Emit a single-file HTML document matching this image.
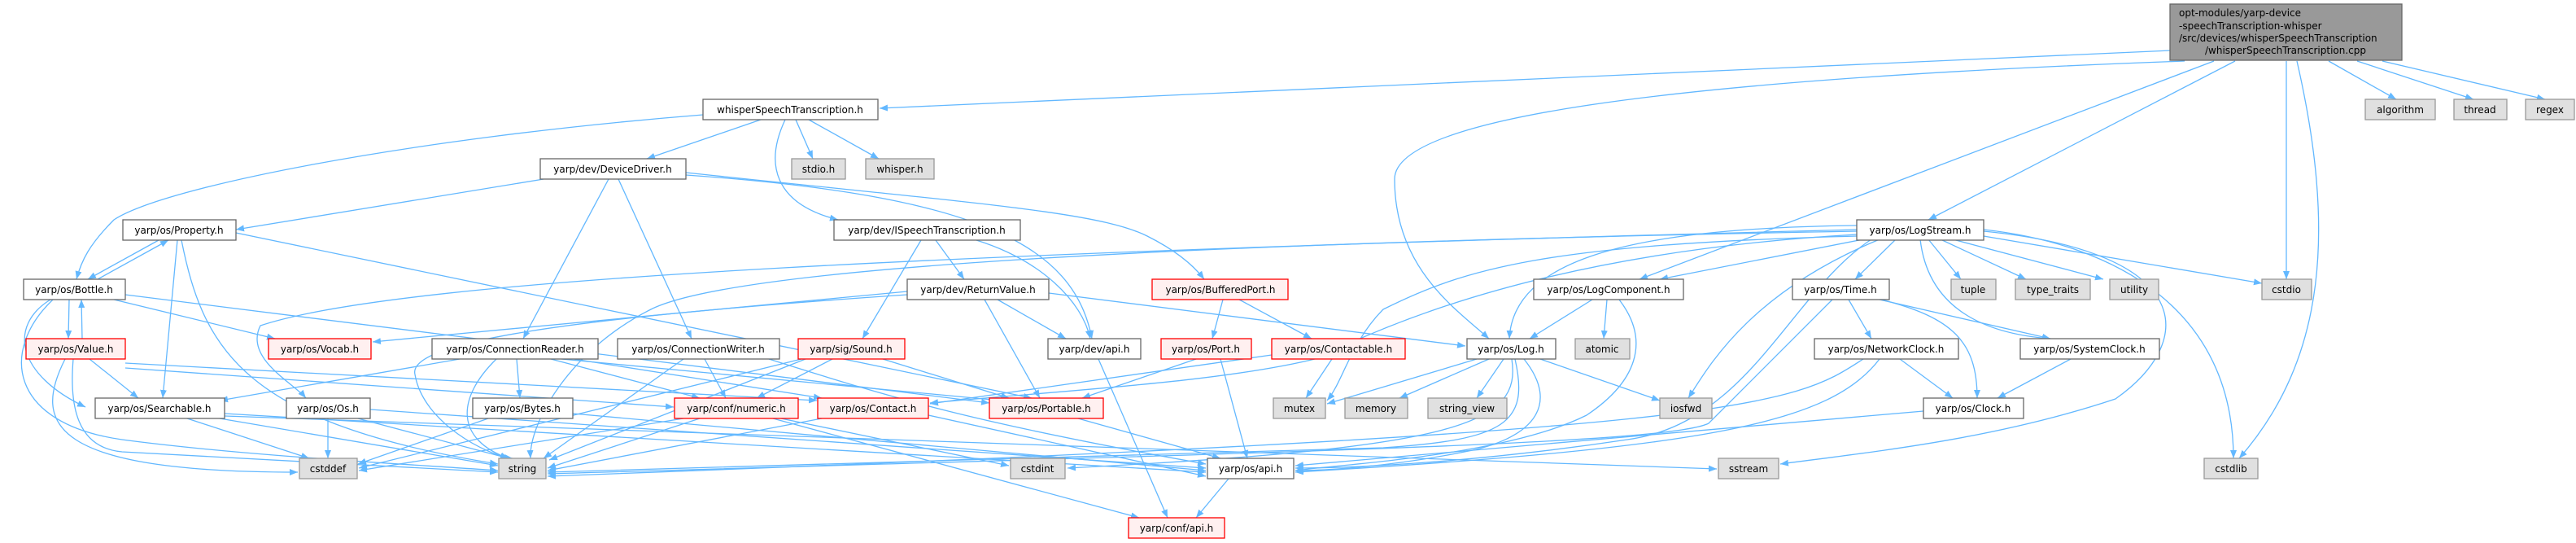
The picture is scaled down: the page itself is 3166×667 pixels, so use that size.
<!DOCTYPE html>
<html><head><meta charset="utf-8"><style>
html,body{margin:0;padding:0;background:#fff;}
svg{display:block;}
text{font-family:"DejaVu Sans","Liberation Sans",sans-serif;font-size:12px;fill:#000;}
.e{fill:none;stroke:#63b8ff;stroke-width:1.3;marker-end:url(#a);}
.w{fill:#fff;stroke:#666;stroke-width:1.3;}
.g{fill:#e0e0e0;stroke:#999;stroke-width:1.3;}
.r{fill:#fff0f0;stroke:#ff0000;stroke-width:1.3;}
.t{fill:#999;stroke:#666;stroke-width:1.3;}
</style></head><body>
<svg width="3166" height="667" viewBox="0 0 3166 667" xmlns="http://www.w3.org/2000/svg">
<defs><marker id="a" viewBox="0 0 10 10" refX="10" refY="5" markerWidth="10" markerHeight="10" markerUnits="userSpaceOnUse" orient="auto"><path d="M0,1 L10,5 L0,9 z" fill="#63b8ff"/></marker></defs>
<g>
<path class="e" d="M2668 62 L1081 133"/>
<path class="e" d="M2862 75 L2945 122"/>
<path class="e" d="M2897 75 L3040 122"/>
<path class="e" d="M2928 75 L3128 122"/>
<path class="e" d="M2810 75 L2810 343"/>
<path class="e" d="M2823 75 C2870 280 2860 440 2752 563"/>
<path class="e" d="M2747 75 L2370 270"/>
<path class="e" d="M2721 75 L2015 343"/>
<path class="e" d="M2685 75 C2000 100 1714 150 1714 220 C1714 330 1790 380 1830 416"/>
<path class="e" d="M935 147 L795 195"/>
<path class="e" d="M978 147 L999 195"/>
<path class="e" d="M994 147 L1080 195"/>
<path class="e" d="M965 147 C940 200 950 250 1030 270"/>
<path class="e" d="M864 141 C500 170 200 230 140 270 C110 300 100 320 94 343"/>
<path class="e" d="M668 220 L290 282"/>
<path class="e" d="M748 220 L643 416"/>
<path class="e" d="M760 220 L850 416"/>
<path class="e" d="M843 215 C1200 240 1320 300 1342 416"/>
<path class="e" d="M843 212 C1200 250 1350 260 1410 290 C1450 310 1470 330 1480 343"/>
<path class="e" d="M195 295 L108 343"/>
<path class="e" d="M120 343 L207 295"/>
<path class="e" d="M218 295 L200 489"/>
<path class="e" d="M223 295 C250 430 300 520 612 570"/>
<path class="e" d="M290 286 L1268 489"/>
<path class="e" d="M85 368 L84 416"/>
<path class="e" d="M101 416 L100 368"/>
<path class="e" d="M140 368 L338 416"/>
<path class="e" d="M62 368 C10 400 20 460 105 500"/>
<path class="e" d="M65 368 C0 430 10 520 150 540 C300 560 500 570 612 578"/>
<path class="e" d="M154 362 L1216 495"/>
<path class="e" d="M110 441 L170 489"/>
<path class="e" d="M80 441 C40 520 60 580 366 580"/>
<path class="e" d="M90 441 C85 500 95 550 150 555 L612 580"/>
<path class="e" d="M154 452 L828 500"/>
<path class="e" d="M154 446 L1004 492"/>
<path class="e" d="M1150 295 L1185 343"/>
<path class="e" d="M1132 295 L1060 416"/>
<path class="e" d="M1200 295 C1280 320 1330 370 1340 416"/>
<path class="e" d="M1115 358 L458 420"/>
<path class="e" d="M1115 362 C700 390 500 420 510 460 C520 520 600 560 630 563"/>
<path class="e" d="M1226 368 L1310 416"/>
<path class="e" d="M1210 368 L1278 489"/>
<path class="e" d="M1289 360 L1801 425"/>
<path class="e" d="M2282 282 C1200 310 500 340 320 400 C300 440 360 470 376 489"/>
<path class="e" d="M1503 368 L1490 416"/>
<path class="e" d="M1523 368 L1612 416"/>
<path class="e" d="M1470 441 L1330 489"/>
<path class="e" d="M1500 441 L1533 563"/>
<path class="e" d="M1637 441 L1605 489"/>
<path class="e" d="M1563 436 L1143 496"/>
<path class="e" d="M565 441 L270 492"/>
<path class="e" d="M610 441 C560 490 560 540 625 563"/>
<path class="e" d="M635 441 L639 489"/>
<path class="e" d="M677 441 L860 489"/>
<path class="e" d="M705 441 L1010 489"/>
<path class="e" d="M690 441 L1230 492"/>
<path class="e" d="M866 441 L892 489"/>
<path class="e" d="M840 441 L668 563"/>
<path class="e" d="M945 441 C1100 490 1200 520 1482 570"/>
<path class="e" d="M1023 441 L930 489"/>
<path class="e" d="M1085 441 L1240 489"/>
<path class="e" d="M990 441 L675 565"/>
<path class="e" d="M985 441 L441 575"/>
<path class="e" d="M1350 441 L1435 636"/>
<path class="e" d="M403 514 L403 563"/>
<path class="e" d="M440 514 L625 563"/>
<path class="e" d="M455 503 L1482 575"/>
<path class="e" d="M600 514 L440 570"/>
<path class="e" d="M704 508 L1482 578"/>
<path class="e" d="M230 514 L380 563"/>
<path class="e" d="M270 514 L612 572"/>
<path class="e" d="M276 508 L1482 580"/>
<path class="e" d="M276 511 L2110 576"/>
<path class="e" d="M960 514 L1240 572"/>
<path class="e" d="M860 514 L673 575"/>
<path class="e" d="M840 514 L441 578"/>
<path class="e" d="M950 514 L1400 636"/>
<path class="e" d="M1010 514 L673 578"/>
<path class="e" d="M1141 510 L1482 585"/>
<path class="e" d="M1325 514 L1500 563"/>
<path class="e" d="M1510 588 L1470 636"/>
<path class="e" d="M2282 277 C2000 280 1860 320 1855 416"/>
<path class="e" d="M2290 294 L2040 343"/>
<path class="e" d="M2330 294 L2280 343"/>
<path class="e" d="M2360 294 C2370 380 2440 410 2520 416"/>
<path class="e" d="M2370 294 L2410 343"/>
<path class="e" d="M2385 294 L2490 343"/>
<path class="e" d="M2400 294 L2585 343"/>
<path class="e" d="M2438 290 L2780 348"/>
<path class="e" d="M2438 282 C2600 300 2745 380 2745 563"/>
<path class="e" d="M2438 284 C2700 310 2700 420 2600 490 C2450 540 2300 555 2188 570"/>
<path class="e" d="M2310 294 C2150 360 2100 450 2075 489"/>
<path class="e" d="M2300 294 C2200 360 2150 520 2000 540 C1800 570 1650 575 1592 575"/>
<path class="e" d="M2282 284 C1400 300 900 330 800 380 C700 430 650 520 652 563"/>
<path class="e" d="M2282 290 C1900 300 1800 330 1700 380 C1660 420 1650 470 1631 492"/>
<path class="e" d="M2282 288 C1900 310 1700 400 1620 440 C1500 470 1300 480 1143 495"/>
<path class="e" d="M1957 368 L1880 416"/>
<path class="e" d="M1975 368 L1971 416"/>
<path class="e" d="M1990 368 C2030 420 2010 470 1950 510 C1850 560 1650 570 1592 578"/>
<path class="e" d="M1815 441 L1631 496"/>
<path class="e" d="M1830 441 L1720 489"/>
<path class="e" d="M1848 441 L1815 489"/>
<path class="e" d="M1893 441 L2040 492"/>
<path class="e" d="M1873 441 C1920 500 1880 540 1800 555 C1700 575 1620 578 1592 578"/>
<path class="e" d="M1862 441 C1880 520 1850 540 1700 550 L673 580"/>
<path class="e" d="M1858 441 C1870 520 1800 550 1312 575"/>
<path class="e" d="M2272 368 L2300 416"/>
<path class="e" d="M2310 368 L2520 416"/>
<path class="e" d="M2312 368 C2400 390 2430 420 2430 489"/>
<path class="e" d="M2252 368 L2100 520 C2050 545 1600 555 673 582"/>
<path class="e" d="M2335 441 L2400 489"/>
<path class="e" d="M2310 441 C2250 520 2100 550 1592 580"/>
<path class="e" d="M2290 441 C2200 500 2150 530 673 585"/>
<path class="e" d="M2545 441 L2455 489"/>
<path class="e" d="M2364 505 L1592 572"/>
</g>
<g>
<rect class="t" x="2667" y="5" width="285" height="69"/>
<text x="2678" y="20">opt-modules/yarp-device</text>
<text x="2678" y="36">-speechTranscription-whisper</text>
<text x="2678" y="51">/src/devices/whisperSpeechTranscription</text>
<text x="2809" y="66" text-anchor="middle">/whisperSpeechTranscription.cpp</text>
</g>
<g text-anchor="middle">
<rect class="w" x="864" y="122" width="215" height="25"/><text x="971" y="139">whisperSpeechTranscription.h</text>
<rect class="g" x="2907" y="122" width="86" height="25"/><text x="2950" y="139">algorithm</text>
<rect class="g" x="3016" y="122" width="65" height="25"/><text x="3048" y="139">thread</text>
<rect class="g" x="3104" y="122" width="60" height="25"/><text x="3134" y="139">regex</text>
<rect class="w" x="664" y="195" width="179" height="25"/><text x="753" y="212">yarp/dev/DeviceDriver.h</text>
<rect class="g" x="973" y="195" width="66" height="25"/><text x="1006" y="212">stdio.h</text>
<rect class="g" x="1064" y="195" width="84" height="25"/><text x="1106" y="212">whisper.h</text>
<rect class="w" x="151" y="270" width="139" height="25"/><text x="220" y="287">yarp/os/Property.h</text>
<rect class="w" x="1025" y="270" width="229" height="25"/><text x="1139" y="287">yarp/dev/ISpeechTranscription.h</text>
<rect class="w" x="2282" y="270" width="156" height="25"/><text x="2360" y="287">yarp/os/LogStream.h</text>
<rect class="w" x="29" y="343" width="125" height="25"/><text x="91" y="360">yarp/os/Bottle.h</text>
<rect class="w" x="1115" y="343" width="174" height="25"/><text x="1202" y="360">yarp/dev/ReturnValue.h</text>
<rect class="r" x="1416" y="343" width="167" height="25"/><text x="1500" y="360">yarp/os/BufferedPort.h</text>
<rect class="w" x="1885" y="343" width="184" height="25"/><text x="1977" y="360">yarp/os/LogComponent.h</text>
<rect class="w" x="2203" y="343" width="119" height="25"/><text x="2262" y="360">yarp/os/Time.h</text>
<rect class="g" x="2398" y="343" width="55" height="25"/><text x="2425" y="360">tuple</text>
<rect class="g" x="2477" y="343" width="92" height="25"/><text x="2523" y="360">type_traits</text>
<rect class="g" x="2593" y="343" width="60" height="25"/><text x="2623" y="360">utility</text>
<rect class="g" x="2780" y="343" width="61" height="25"/><text x="2810" y="360">cstdio</text>
<rect class="r" x="32" y="416" width="122" height="25"/><text x="93" y="433">yarp/os/Value.h</text>
<rect class="r" x="330" y="416" width="126" height="25"/><text x="393" y="433">yarp/os/Vocab.h</text>
<rect class="w" x="531" y="416" width="204" height="25"/><text x="633" y="433">yarp/os/ConnectionReader.h</text>
<rect class="w" x="759" y="416" width="199" height="25"/><text x="858" y="433">yarp/os/ConnectionWriter.h</text>
<rect class="r" x="981" y="416" width="131" height="25"/><text x="1046" y="433">yarp/sig/Sound.h</text>
<rect class="w" x="1288" y="416" width="114" height="25"/><text x="1345" y="433">yarp/dev/api.h</text>
<rect class="r" x="1427" y="416" width="111" height="25"/><text x="1482" y="433">yarp/os/Port.h</text>
<rect class="r" x="1563" y="416" width="164" height="25"/><text x="1645" y="433">yarp/os/Contactable.h</text>
<rect class="w" x="1803" y="416" width="109" height="25"/><text x="1857" y="433">yarp/os/Log.h</text>
<rect class="g" x="1936" y="416" width="67" height="25"/><text x="1969" y="433">atomic</text>
<rect class="w" x="2230" y="416" width="177" height="25"/><text x="2318" y="433">yarp/os/NetworkClock.h</text>
<rect class="w" x="2483" y="416" width="171" height="25"/><text x="2568" y="433">yarp/os/SystemClock.h</text>
<rect class="w" x="117" y="489" width="159" height="25"/><text x="196" y="506">yarp/os/Searchable.h</text>
<rect class="w" x="352" y="489" width="103" height="25"/><text x="403" y="506">yarp/os/Os.h</text>
<rect class="w" x="581" y="489" width="123" height="25"/><text x="642" y="506">yarp/os/Bytes.h</text>
<rect class="r" x="829" y="489" width="152" height="25"/><text x="905" y="506">yarp/conf/numeric.h</text>
<rect class="r" x="1005" y="489" width="136" height="25"/><text x="1073" y="506">yarp/os/Contact.h</text>
<rect class="r" x="1216" y="489" width="140" height="25"/><text x="1286" y="506">yarp/os/Portable.h</text>
<rect class="g" x="1565" y="489" width="64" height="25"/><text x="1597" y="506">mutex</text>
<rect class="g" x="1653" y="489" width="77" height="25"/><text x="1691" y="506">memory</text>
<rect class="g" x="1755" y="489" width="97" height="25"/><text x="1803" y="506">string_view</text>
<rect class="g" x="2040" y="489" width="64" height="25"/><text x="2072" y="506">iosfwd</text>
<rect class="w" x="2364" y="489" width="123" height="25"/><text x="2425" y="506">yarp/os/Clock.h</text>
<rect class="g" x="368" y="563" width="71" height="25"/><text x="403" y="580">cstddef</text>
<rect class="g" x="613" y="563" width="58" height="25"/><text x="642" y="580">string</text>
<rect class="g" x="1242" y="563" width="67" height="25"/><text x="1275" y="580">cstdint</text>
<rect class="w" x="1484" y="563" width="106" height="25"/><text x="1537" y="580">yarp/os/api.h</text>
<rect class="g" x="2112" y="563" width="74" height="25"/><text x="2149" y="580">sstream</text>
<rect class="g" x="2709" y="563" width="66" height="25"/><text x="2742" y="580">cstdlib</text>
<rect class="r" x="1387" y="636" width="118" height="25"/><text x="1446" y="653">yarp/conf/api.h</text>
</g>
</svg>
</body></html>
